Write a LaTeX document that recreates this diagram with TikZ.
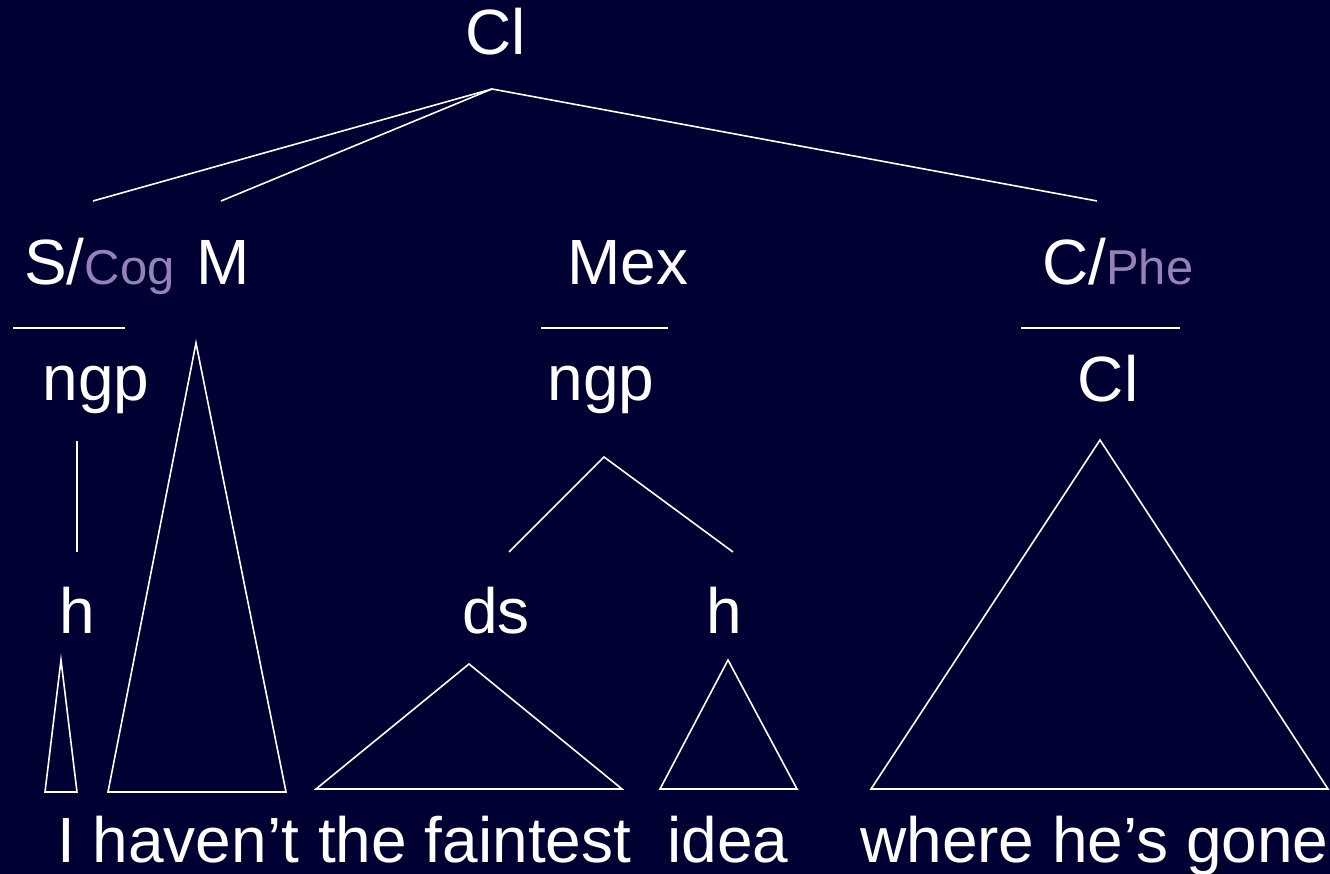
\documentclass[tikz,border=0pt]{standalone}
\usepackage{fontspec}
\setmainfont{Liberation Sans}
\definecolor{bg}{RGB}{0,0,51}
\definecolor{cog}{RGB}{150,130,185}
\begin{document}
\begin{tikzpicture}[x=1pt,y=-1pt,
  lbl/.style={text=white,inner sep=0pt,anchor=base,font=\fontsize{64}{64}\selectfont},
  lblw/.style={lbl,anchor=base west},
  ln/.style={draw=white,line width=1.6pt,line join=miter}]
\fill[bg] (0,0) rectangle (1330,874);
\useasboundingbox (0,0) rectangle (1330,874);
% labels
\node[lbl] (cltop) at (496,55) {Cl};
\node[lblw] (s) at (24,285) {S/{\fontsize{49}{49}\selectfont\color{cog}Cog}};
\node[lblw] (m) at (196,285) {M};
\node[lblw] (mex) at (567,285) {Mex};
\node[lblw] (c) at (1042,285) {C/{\fontsize{49}{49}\selectfont\color{cog}Phe}};
\node[lbl] (ngp1) at (96,400) {ngp};
\node[lbl] (ngp2) at (601,400) {ngp};
\node[lbl] (cl2) at (1108,401) {Cl};
\node[lbl] (h1) at (77,633) {h};
\node[lbl] (ds) at (496,633) {ds};
\node[lbl] (h2) at (724,633) {h};
\node[lblw] (w1) at (57,862) {I haven’t};
\node[lblw] (w2) at (318,862) {the faintest};
\node[lblw] (w3) at (667,862) {idea};
\node[lblw] (w4) at (860,862) {where he’s gone};
% coordinates
\coordinate (apex) at (492,89);
\coordinate (aS) at (93,201);
\coordinate (aM) at (221,201);
\coordinate (aC) at (1097,201);
\coordinate (v1) at (77,441);
\coordinate (v2) at (77,552);
\coordinate (napex) at (604,457);
\coordinate (nds) at (509,552);
\coordinate (nh) at (733,552);
% connectors
\draw[ln] (apex) -- (aS);
\draw[ln] (apex) -- (aM);
\draw[ln] (apex) -- (aC);
\draw[ln] (v1) -- (v2);
\draw[ln] (nds) -- (napex) -- (nh);
% underlines
\draw[ln] (13,328) -- (125,328);
\draw[ln] (541,328) -- (668,328);
\draw[ln] (1021,328) -- (1180,328);
% triangles
\draw[ln] (61,660) -- (77,792) -- (45,792) -- cycle;
\draw[ln] (196,343) -- (286,792) -- (108,792) -- cycle;
\draw[ln] (469,664) -- (622,789) -- (316,789) -- cycle;
\draw[ln] (728,660) -- (797,789) -- (660,789) -- cycle;
\draw[ln] (1100,440) -- (1328,789) -- (871,789) -- cycle;
\end{tikzpicture}
\end{document}
